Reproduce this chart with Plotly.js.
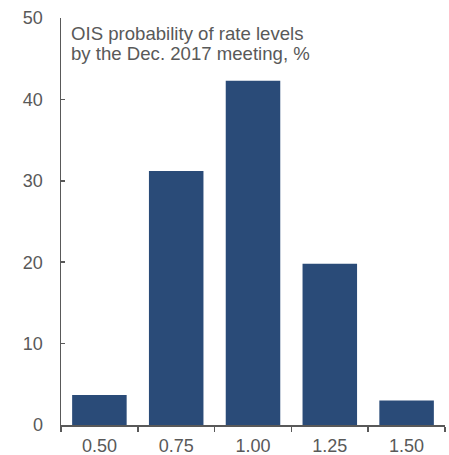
<!DOCTYPE html>
<html>
<head>
<meta charset="utf-8">
<script src="https://cdn.plot.ly/plotly-3.0.1.min.js"></script>
<style>html,body{margin:0;padding:0;background:#fff;}#chart{width:449px;height:455px;}</style>
</head>
<body>
<div id="chart"></div>
<script>
const categories = ["0.50", "0.75", "1.00", "1.25", "1.50"];
const probabilities = [3.7, 31.2, 42.3, 19.8, 3.0];
const yTicks = [0, 10, 20, 30, 40, 50];
const titleLines = ["OIS probability of rate levels", "by the Dec. 2017 meeting, %"];

const grey = "#595959";
const font = "Liberation Sans, Arial, sans-serif";
const fs = 18;

Plotly.newPlot("chart", [{
  type: "bar",
  x: categories,
  y: probabilities,
  marker: {color: "#2A4B78", line: {width: 0}},
  hoverinfo: "none"
}], {
  width: 449,
  height: 455,
  margin: {l: 61, r: 4, t: 18, b: 30},
  paper_bgcolor: "#fff",
  plot_bgcolor: "#fff",
  bargap: 0.29,
  showlegend: false,
  font: {family: font, size: fs, color: grey},
  xaxis: {
    type: "category",
    range: [-0.5, 4.5],
    tickson: "boundaries",
    ticks: "outside",
    ticklen: 5,
    tickwidth: 1.5,
    tickcolor: grey,
    showline: true,
    linecolor: grey,
    linewidth: 1.5,
    showgrid: false,
    zeroline: false,
    ticklabelstandoff: 4,
    tickfont: {family: font, size: fs, color: grey}
  },
  yaxis: {
    range: [0, 50],
    tickmode: "array",
    tickvals: yTicks,
    ticktext: yTicks.map(String),
    ticks: "inside",
    ticklen: 4,
    tickwidth: 1.5,
    tickcolor: grey,
    showline: true,
    linecolor: grey,
    linewidth: 1.5,
    showgrid: false,
    zeroline: false,
    ticklabelstandoff: 13,
    tickfont: {family: font, size: fs, color: grey}
  },
  annotations: titleLines.map((t, i) => ({
    text: t,
    xref: "paper", yref: "paper",
    x: 0.022, y: [0.962, 0.914][i],
    xanchor: "left", yanchor: "middle",
    align: "left",
    showarrow: false,
    font: {family: font, size: 18.6, color: grey}
  }))
}, {displayModeBar: false, staticPlot: true});
</script>
</body>
</html>
